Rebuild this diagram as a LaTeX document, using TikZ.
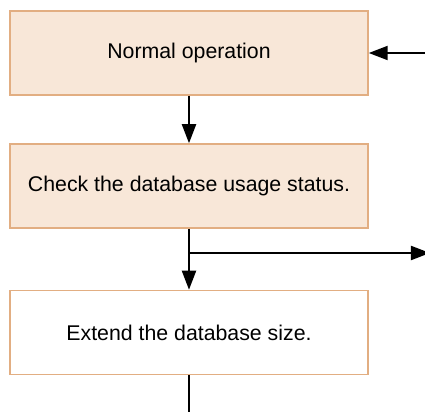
\documentclass[tikz,border=0pt]{standalone}
\usepackage{fontspec}
\setmainfont{Liberation Sans}
\usetikzlibrary{arrows.meta}

\definecolor{stepfill}{HTML}{F8E7D8}
\definecolor{stepline}{HTML}{E2AE82}

\begin{document}
\begin{tikzpicture}[x=0.5pt, y=-0.5pt,
    every node/.style={rectangle,draw=stepline,line width=0.75pt,
      minimum width=179pt,minimum height=42pt,inner sep=0pt,
      font=\fontsize{10.65}{13}\selectfont},
    flow/.style={line width=1pt,-{Triangle[length=9.5pt,width=7pt]}}]
    \useasboundingbox (0,0) rectangle (425,412);
    % Steps
    \node[fill=stepfill] (normal) at (189,53) {Normal operation};
    \node[fill=stepfill] (check) at (189,186) {Check the database usage status.};
    \node (extend) at (189,332.5) {Extend the database size.};

    % Free ends
    \coordinate (back) at (425,53);
    \coordinate (split) at (189,253);
    \coordinate (out) at (430,253);
    \coordinate (down) at (189,412);

    \draw[flow] (back) -- (normal);
    \draw[flow] (normal) -- (check);
    \draw[flow] (check) -- (extend);
    \draw[flow] (split) -- (out);       % Branch to the right
    \draw[line width=1pt] (extend) -- (down);
\end{tikzpicture}
\end{document}
